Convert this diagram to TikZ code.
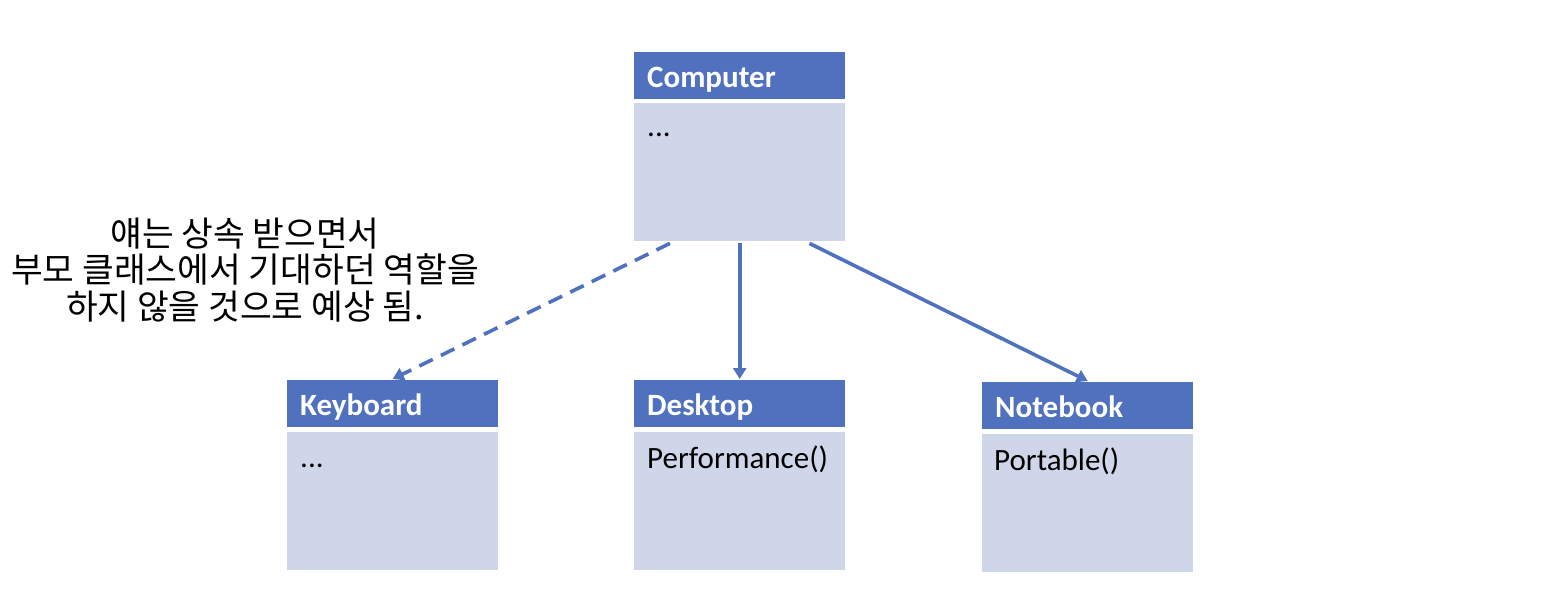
\documentclass[tikz,border=0pt]{standalone}
\usepackage{fontspec}
\setmainfont{Carlito}
\newfontfamily\krfont{Noto Sans CJK KR}
\usetikzlibrary{arrows.meta,calc}
\definecolor{hdrblue}{HTML}{4F71BE}
\definecolor{bodyblue}{HTML}{D0D6E9}
\definecolor{lineblue}{HTML}{4F71BE}
\begin{document}
\begin{tikzpicture}[x=1pt,y=-1pt,
  hdr/.style={fill=hdrblue,draw=none,minimum width=211pt,minimum height=47pt,inner sep=0pt,anchor=north west,
     font=\fontsize{31}{34}\selectfont\bfseries,text=white,align=left,text width=185pt,
     text height=25pt,text depth=2pt},
  bdy/.style={fill=bodyblue,draw=none,minimum width=211pt,minimum height=138pt,inner sep=0pt,anchor=north west},
  mtxt/.style={anchor=base west,font=\fontsize{31}{34}\selectfont,inner sep=0pt},
  conn/.style={draw=lineblue,line width=3.6pt,-{Triangle[length=11pt,width=13pt]}},
]
\useasboundingbox (0,0) rectangle (1562,596);
% Computer
\node[hdr] (ch) at (634,52) {Computer};
\node[bdy] (cb) at (634,103) {};
\node[mtxt] (ct) at (647,137) {...};
% Keyboard
\node[hdr] (kh) at (287,380) {Keyboard};
\node[bdy] (kb) at (287,432) {};
\node[mtxt] (kt) at (300,467) {...};
% Desktop
\node[hdr] (dh) at (634,380) {Desktop};
\node[bdy] (db) at (634,432) {};
\node[mtxt] (dt) at (647,468) {Performance()};
% Notebook
\node[hdr] (nh) at (982,382) {Notebook};
\node[bdy] (nb) at (982,434) {};
\node[mtxt] (nt) at (994,470) {Portable()};
% note
\node[font=\krfont\fontsize{34.5}{36.5}\selectfont,align=center,inner sep=0pt] (note) at (245,270)
  {얘는 상속 받으면서\\부모 클래스에서 기대하던 역할을\\하지 않을 것으로 예상 됨.};
% connectors
\coordinate (s1) at ($(cb.south west)!0.17!(cb.south east)+(0,2)$);
\coordinate (s2) at ($(cb.south west)!0.5!(cb.south east)+(0,2)$);
\coordinate (s3) at ($(cb.south west)!0.83!(cb.south east)+(0,2)$);
\draw[conn,dashed,dash pattern=on 15pt off 9pt] (s1) -- ($(kh.north)+(0,-1)$);
\draw[conn] (s2) -- ($(dh.north)+(0,-1)$);
\draw[conn] (s3) -- ($(nh.north)+(0,-1)$);
\end{tikzpicture}
\end{document}
